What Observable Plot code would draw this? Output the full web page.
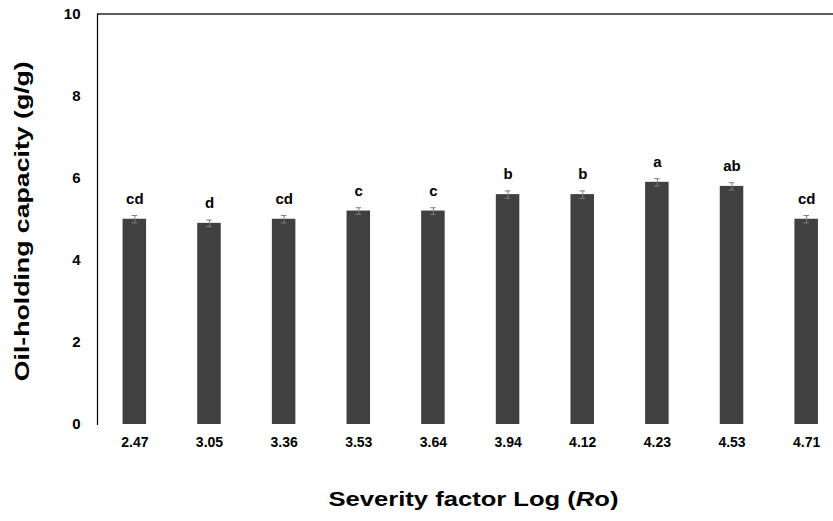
<!DOCTYPE html>
<html>
<head>
<meta charset="utf-8">
<script src="https://cdn.jsdelivr.net/npm/d3@7"></script>
<script src="https://cdn.jsdelivr.net/npm/@observablehq/plot@0.6"></script>
<style>
  html, body { margin: 0; padding: 0; background: #fff; }
  #chart svg { display: block; }
</style>
</head>
<body>
<div id="chart"></div>
<script>
const categories = ["2.47", "3.05", "3.36", "3.53", "3.64", "3.94", "4.12", "4.23", "4.53", "4.71"];
const values = [5.0, 4.9, 5.0, 5.2, 5.2, 5.6, 5.6, 5.9, 5.8, 5.0];
const errors = [0.09, 0.08, 0.09, 0.08, 0.08, 0.09, 0.09, 0.09, 0.09, 0.09];
const letters = ["cd", "d", "cd", "c", "c", "b", "b", "a", "ab", "cd"];
const yTicks = [0, 2, 4, 6, 8, 10];

const data = categories.map((c, i) => ({cat: c, v: values[i], e: errors[i], lab: letters[i]}));

const font = "'Liberation Sans', Arial, sans-serif";

const chart = Plot.plot({
  width: 833,
  height: 521,
  marginLeft: 97,
  marginRight: 0,
  marginTop: 13.5,
  marginBottom: 97,
  style: {fontFamily: font, background: "#fff", overflow: "visible"},
  x: {domain: categories, range: [97, 843.5], round: false, paddingInner: 0.685, paddingOuter: 0.3425, label: null},
  y: {domain: [0, 10], label: null},
  marks: [
    Plot.axisY({ticks: yTicks, tickSize: 0, tickPadding: 17, fontSize: 15, fontWeight: "bold", fill: "#000", label: null}),
    Plot.axisX({tickSize: 0, tickPadding: 13, fontSize: 14, fontWeight: "bold", fill: "#000", label: null}),
    Plot.barY(data, {x: "cat", y: "v", fill: "#404040"}),
    Plot.ruleX(data, {x: "cat", y1: d => d.v - d.e, y2: d => d.v + d.e, stroke: "#7f7f7f", strokeWidth: 1}),
    Plot.tickY(data, {x: "cat", y: d => d.v + d.e, stroke: "#7f7f7f", strokeWidth: 1, inset: 9}),
    Plot.tickY(data, {x: "cat", y: d => d.v - d.e, stroke: "#7f7f7f", strokeWidth: 1, inset: 9}),
    Plot.text(data, {x: "cat", y: d => d.v + d.e, text: "lab", dy: -12, lineAnchor: "bottom", fontSize: 15, fontWeight: "bold", fill: "#000"}),
    Plot.ruleY([0], {stroke: "#a6a6a6", strokeWidth: 1.5, x1: 97, x2: 843}),
    Plot.ruleY([10], {stroke: "#262626", strokeWidth: 1.5}),
    Plot.frame({anchor: "left", stroke: "#000", strokeWidth: 1.2}),
    Plot.text(["Severity factor Log (Ro)"], {frameAnchor: "bottom", textAnchor: "middle", dx: 8, dy: 81, fontSize: 21, fontWeight: "bold", fill: "#000", className: "xtitle"}),
    Plot.text(["Oil-holding capacity (g/g)"], {frameAnchor: "left", textAnchor: "middle", dx: -75, dy: 2, rotate: -90, fontSize: 21, fontWeight: "bold", fill: "#000", className: "ytitle"})
  ]
});

document.getElementById("chart").appendChild(chart);

// Italicise the "R" in the x-axis title; stretch titles like the reference
const ns = "http://www.w3.org/2000/svg";
const t = chart.querySelector(".xtitle text");
if (t) {
  t.textContent = "";
  const parts = [["Severity factor Log (", "normal"], ["R", "italic"], ["o)", "normal"]];
  for (const [s, st] of parts) {
    const sp = document.createElementNS(ns, "tspan");
    sp.textContent = s;
    sp.setAttribute("font-style", st);
    t.appendChild(sp);
  }
  t.setAttribute("textLength", "290");
  t.setAttribute("lengthAdjust", "spacingAndGlyphs");
}
const yt = chart.querySelector(".ytitle text");
if (yt) {
  yt.setAttribute("textLength", "320");
  yt.setAttribute("lengthAdjust", "spacingAndGlyphs");
}
</script>
</body>
</html>
